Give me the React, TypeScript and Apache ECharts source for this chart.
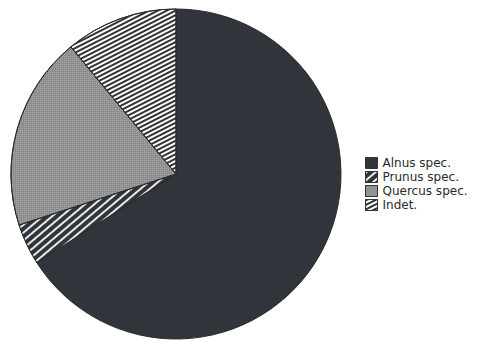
import React, { useEffect, useRef } from "react";
import * as echarts from "echarts";

const categories = ["Alnus spec.", "Prunus spec.", "Quercus spec.", "Indet."];
const values = [66, 4, 19, 11];

const App: React.FC = () => {
  const ref = useRef<HTMLDivElement>(null);
  useEffect(() => {
    if (!ref.current) return;
    const chart = echarts.init(ref.current, undefined, { renderer: "svg" });
    const styles = [
      { color: "#30343b" },
      {
        color: "#30343b",
        decal: {
          symbol: "rect",
          symbolSize: 1,
          dashArrayX: [1, 0],
          dashArrayY: [1.5, 4],
          rotation: -0.7,
          color: "#e8e8e8",
        },
      },
      {
        color: "#8d8d8d",
        decal: {
          symbol: "rect",
          symbolSize: 1,
          dashArrayX: [1, 1],
          dashArrayY: [1, 1],
          rotation: 0,
          color: "#a6a6a6",
        },
      },
      {
        color: "#ffffff",
        decal: {
          symbol: "rect",
          symbolSize: 1,
          dashArrayX: [1, 0],
          dashArrayY: [1.6, 1.9],
          rotation: -0.47,
          color: "#333333",
        },
      },
    ];
    chart.setOption({
      animation: false,
      backgroundColor: "#ffffff",
      legend: {
        orient: "vertical",
        left: 360,
        top: 152,
        itemWidth: 12,
        itemHeight: 11,
        itemGap: 2,
        icon: "rect",
        data: categories,
        textStyle: {
          fontSize: 12,
          lineHeight: 12,
          color: "#2a2a2a",
          fontFamily: "DejaVu Sans",
        },
        itemStyle: { borderColor: "#333", borderWidth: 1 },
      },
      series: [
        {
          type: "pie",
          center: [176, 174],
          radius: 165,
          startAngle: 90,
          clockwise: true,
          label: { show: false },
          labelLine: { show: false },
          emphasis: { disabled: true },
          itemStyle: { borderColor: "#2a2a2a", borderWidth: 1 },
          data: categories.map((name, i) => ({
            name,
            value: values[i],
            itemStyle: styles[i],
          })),
        },
      ],
    });
    return () => chart.dispose();
  }, []);
  return (
    <div
      ref={ref}
      style={{ position: "fixed", left: 0, top: 0, width: 502, height: 340 }}
    />
  );
};

export default App;
